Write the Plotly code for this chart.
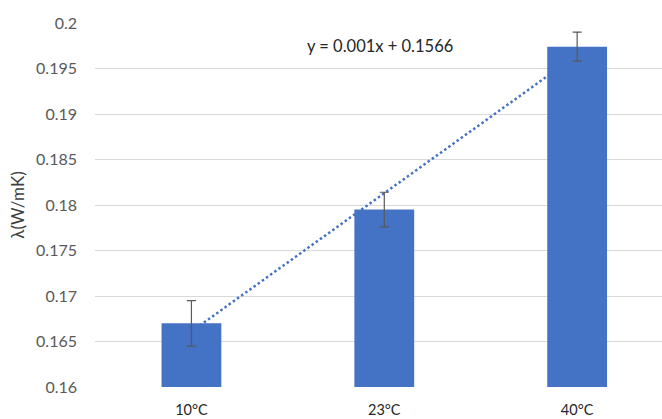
import numpy as np
import plotly.graph_objects as go

categories = ["10°C", "23°C", "40°C"]
lambda_values = [0.167, 0.1795, 0.1974]
lambda_errors = [0.0025, 0.0019, 0.0016]
y_ticks = [0.16, 0.165, 0.17, 0.175, 0.18, 0.185, 0.19, 0.195, 0.2]
y_tick_labels = ["0.16", "0.165", "0.17", "0.175", "0.18", "0.185", "0.19", "0.195", "0.2"]
trend_label = "y = 0.001x + 0.1566"

BLUE = "#4472C4"
FONT = "Lato"

idx = np.arange(len(categories))
slope, intercept = np.polyfit(idx, lambda_values, 1)
trend = slope * idx + intercept

fig = go.Figure()

# Trendline on main axes (drawn beneath bars, which live on the overlay axes)
fig.add_trace(go.Scatter(
    x=idx, y=trend, mode="lines",
    line=dict(color=BLUE, width=2.5, dash="2.5px,2.6px"),
    xaxis="x", yaxis="y", showlegend=False, hoverinfo="skip",
))

fig.add_trace(go.Bar(
    x=idx, y=lambda_values, width=0.31,
    marker=dict(color=BLUE, line=dict(width=0)),
    error_y=dict(type="data", array=lambda_errors, visible=True,
                 color="#595959", thickness=1.2, width=4.5),
    xaxis="x2", yaxis="y2", showlegend=False,
))

xr = [-0.5, 2.44]
yr = [0.16, 0.2]

fig.update_layout(
    width=662, height=419,
    margin=dict(l=95, r=0, t=23, b=32, autoexpand=False),
    paper_bgcolor="white", plot_bgcolor="white",
    font=dict(family=FONT, size=15, color="#595959"),
    xaxis=dict(
        range=xr, tickmode="array", tickvals=list(idx), ticktext=categories,
        showgrid=False, zeroline=False, showline=False,
        tickfont=dict(family=FONT, size=14.5, color="#262626"),
        ticks="", ticklabelstandoff=12, automargin=False,
    ),
    yaxis=dict(
        range=yr, tickmode="array", tickvals=y_ticks, ticktext=y_tick_labels,
        showgrid=True, gridcolor="#D9D9D9", gridwidth=1,
        zeroline=False, showline=False, ticks="",
        tickfont=dict(family=FONT, size=16, color="#595959"),
        ticklabelstandoff=17, automargin=False,
        title=dict(text="λ(W/mK)", font=dict(family=FONT, size=17, color="#404040"), standoff=7),
    ),
    xaxis2=dict(range=xr, overlaying="x", visible=False),
    yaxis2=dict(range=yr, overlaying="y", visible=False),
    annotations=[dict(
        text=trend_label, xref="paper", yref="paper",
        x=(305 - 95) / (662 - 95), y=(387 - 46) / (387 - 23),
        xanchor="left", yanchor="middle", showarrow=False,
        font=dict(family=FONT, size=16.5, color="#262626"),
    )],
)

fig.write_html("out.html", config={"displayModeBar": False},
               post_script="document.body.style.margin='0';")
